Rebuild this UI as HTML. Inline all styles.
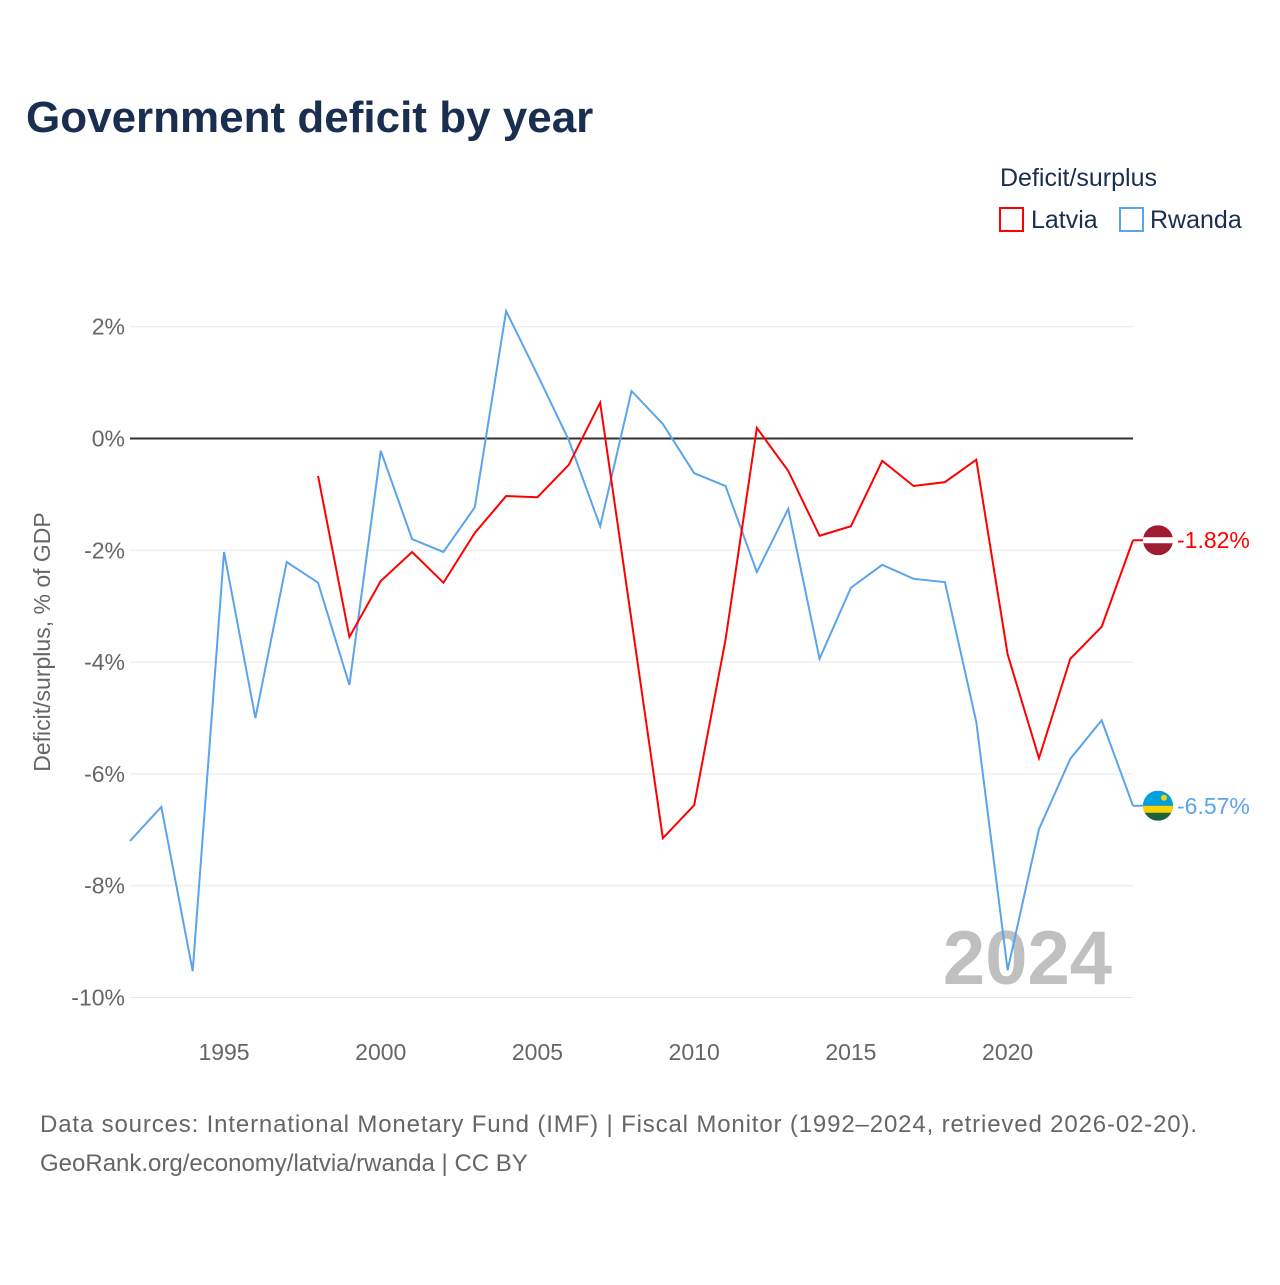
<!DOCTYPE html>
<html><head><meta charset="utf-8"><style>
body{margin:0;background:#fff;font-family:"Liberation Sans",sans-serif}
svg text{font-family:"Liberation Sans",sans-serif}
</style></head><body>
<svg id="c" width="1280" height="1280" viewBox="0 0 1280 1280">
<text x="26" y="132" font-size="44" font-weight="bold" fill="#1a2e4f">Government deficit by year</text>
<text x="1000" y="186" font-size="25" fill="#1a2e4f">Deficit/surplus</text>
<g><rect x="1000" y="208" width="23" height="23" fill="none" stroke="#ff0000" stroke-width="2"/><text x="1031" y="228" font-size="25" fill="#1a2e4f">Latvia</text></g>
<g><rect x="1120" y="208" width="23" height="23" fill="none" stroke="#5ba4ec" stroke-width="2"/><text x="1150" y="228" font-size="25" fill="#1a2e4f">Rwanda</text></g>
<text transform="translate(50,642) rotate(-90)" text-anchor="middle" font-size="23" fill="#666">Deficit/surplus, % of GDP</text>
<text x="1112" y="984" text-anchor="end" font-size="76" font-weight="bold" fill="#c0c0c0">2024</text>
<g id="grid"></g><g id="series"></g>
<text x="40" y="1132" font-size="24" fill="#666" textLength="1157" lengthAdjust="spacing">Data sources: International Monetary Fund (IMF) | Fiscal Monitor (1992–2024, retrieved 2026-02-20).</text>
<text x="40" y="1171" font-size="24" fill="#666">GeoRank.org/economy/latvia/rwanda | CC BY</text>
</svg>
<script>
const years=[];for(let y=1992;y<=2024;y++)years.push(y);
const rwanda=[-7.2,-6.59,-9.53,-2.03,-5.0,-2.21,-2.58,-4.41,-0.22,-1.8,-2.03,-1.23,2.28,1.14,-0.03,-1.57,0.85,0.26,-0.62,-0.85,-2.39,-1.26,-3.94,-2.67,-2.26,-2.51,-2.57,-5.07,-9.51,-6.99,-5.73,-5.04,-6.57];
const latviaYears=[];for(let y=1998;y<=2024;y++)latviaYears.push(y);
const latvia=[-0.67,-3.55,-2.55,-2.03,-2.58,-1.69,-1.03,-1.05,-0.47,0.64,-3.25,-7.15,-6.56,-3.6,0.19,-0.58,-1.74,-1.57,-0.4,-0.85,-0.78,-0.38,-3.86,-5.72,-3.94,-3.37,-1.82];
const yTicks=[2,0,-2,-4,-6,-8,-10];
const xTicks=[1995,2000,2005,2010,2015,2020];
const X=y=>130+(y-1992)*(1133-130)/32;
const Y=v=>438.5-v*55.9;
const NS='http://www.w3.org/2000/svg';
function mk(t,a,p){const e=document.createElementNS(NS,t);for(const k in a)e.setAttribute(k,a[k]);p.appendChild(e);return e;}
const g=document.getElementById('grid'),s=document.getElementById('series');
yTicks.forEach(v=>{
 const l=mk('line',{x1:130,x2:1133,y1:Y(v),y2:Y(v),stroke:v===0?'#333':'#e8e8e8','stroke-width':v===0?2:1},g);
 
 
 const t=mk('text',{x:125,y:Y(v)+8,'text-anchor':'end','font-size':23,fill:'#666'},g);
 
 
 t.textContent=v+'%';
});
xTicks.forEach(y=>{
 const t=mk('text',{x:X(y),y:1060,'text-anchor':'middle','font-size':23,fill:'#666'},g);
 
 
 t.textContent=y;
});
function line(xs,vs,c,name){
 const p=mk('polyline',{points:xs.map((y,i)=>X(y)+','+Y(vs[i])).join(' '),fill:'none',stroke:c,'stroke-width':2},s);
 
 
}
line(years,rwanda,'#5ba4ec','rwanda-line');
line(latviaYears,latvia,'#ff0000','latvia-line');
function endLabel(v,c,name,flag){
 const y=Y(v),x=1158;
 mk('line',{x1:1133,x2:1143,y1:y,y2:y,stroke:c,'stroke-width':2},s);
 const f=mk('g',{},s);
 
 
 const id='cl'+name;
 const cp=mk('clipPath',{id:id},f);mk('circle',{cx:x,cy:y,r:15},cp);
 const gg=mk('g',{'clip-path':'url(#'+id+')'},f);
 if(flag==='lv'){mk('rect',{x:x-15,y:y-15,width:30,height:30,fill:'#9e1b32'},gg);mk('rect',{x:x-15,y:y-3,width:30,height:6,fill:'#fff'},gg);}
 else{mk('rect',{x:x-15,y:y-15,width:30,height:30,fill:'#20603d'},gg);mk('rect',{x:x-15,y:y-15,width:30,height:15,fill:'#00a1de'},gg);mk('rect',{x:x-15,y:y,width:30,height:7,fill:'#fad201'},gg);mk('circle',{cx:x+6,cy:y-8,r:3,fill:'#fad201'},gg);}
 const t=mk('text',{x:1177,y:y+8,'font-size':23,fill:c},s);
 
 
 t.textContent=v.toFixed(2)+'%';
}
endLabel(latvia[latvia.length-1],'#ff0000','latvia','lv');
endLabel(rwanda[rwanda.length-1],'#5ba4ec','rwanda','rw');
</script>
</body></html>
